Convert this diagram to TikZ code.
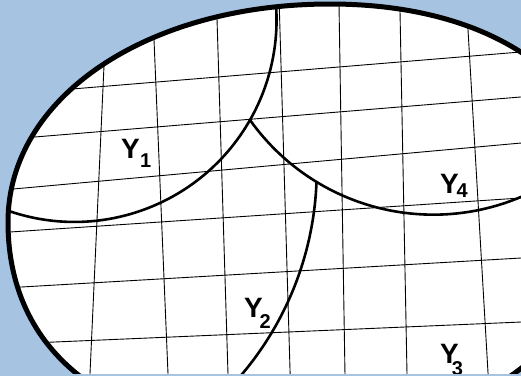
\documentclass[tikz,border=0pt]{standalone}
\usepackage{fontspec}
\setmainfont{Liberation Sans}
\definecolor{bgblue}{RGB}{166,196,226}
\newcommand{\subfnt}{\fontsize{20}{20}\selectfont}
\begin{document}
\begin{tikzpicture}[x=1pt,y=-1pt,
  gridline/.style={line width=0.9pt, black},
  regionarc/.style={line width=2.6pt, black},
  rim/.style={line width=5pt, black, line join=round},
  lab/.style={font=\fontsize{28}{28}\selectfont\bfseries, inner sep=0pt, anchor=base west}]
\fill[bgblue] (0,0) rectangle (521,376);
\useasboundingbox (0,0) rectangle (521,376);
\def\rimpath{(8,222) .. controls (8,97.7) and (146.5,4) .. (330,4)
  .. controls (495,4) and (605,82.4) .. (605,200)
  .. controls (605,341) and (479,435) .. (290,435)
  .. controls (120.8,435) and (8,360.5) .. (8,222) -- cycle}
\begin{scope}
  \clip (0,0) rectangle (521,373.5);
  \fill[white] \rimpath;
  \begin{scope}
    \clip \rimpath;
    % vertical grid lines
    \draw[gridline] (107.9,-20) -- (88.8,400);
    \draw[gridline] (151.5,-20) -- (169.1,400);
    \draw[gridline] (215.8,-20) -- (228.8,400);
    \draw[gridline] (278.5,-20) -- (290.9,400);
    \draw[gridline] (338.6,-20) -- (345.4,400);
    \draw[gridline] (399.4,-20) -- (407.5,400);
    \draw[gridline] (465.1,-20) -- (489.6,400);
    % horizontal grid lines
    \draw[gridline] (-20,96.6) -- (540,50.4);
    \draw[gridline] (-20,141.5) -- (540,95.4);
    \draw[gridline] (-20,192.0) -- (540,141.3);
    \draw[gridline] (-20,234.0) -- (540,196.7);
    \draw[gridline] (-20,289.4) -- (540,256.9);
    \draw[gridline] (-20,345.2) -- (540,321.2);
    % region boundaries
    \coordinate (cusp) at (250,120);
    \draw[regionarc] (cusp) arc[start angle=29.7, end angle=115, radius=202];
    \draw[regionarc] (cusp) arc[start angle=29.7, end angle=-10, radius=202];
    \draw[regionarc] (cusp) arc[start angle=144.6, end angle=121.3, radius=225] coordinate (jn)
                            arc[start angle=121.3, end angle=20, radius=225];
    \draw[regionarc] (jn) arc[start angle=2.2, end angle=45, radius=317];
  \end{scope}
  \draw[rim] \rimpath;
  % labels
  \node[lab] (y1) at (121,158) {Y\kern0.3pt\raisebox{-9pt}{\subfnt 1}};
  \node[lab] (y4) at (440,193) {Y\kern-2.2pt\raisebox{-4pt}{\subfnt 4}};
  \node[lab] (y2) at (244,317) {Y\kern-3.2pt\raisebox{-11pt}{\subfnt 2}};
  \node[lab] (y3) at (440,363) {Y\kern-7pt\raisebox{-12pt}{\subfnt 3}};
\end{scope}
\end{tikzpicture}
\end{document}
